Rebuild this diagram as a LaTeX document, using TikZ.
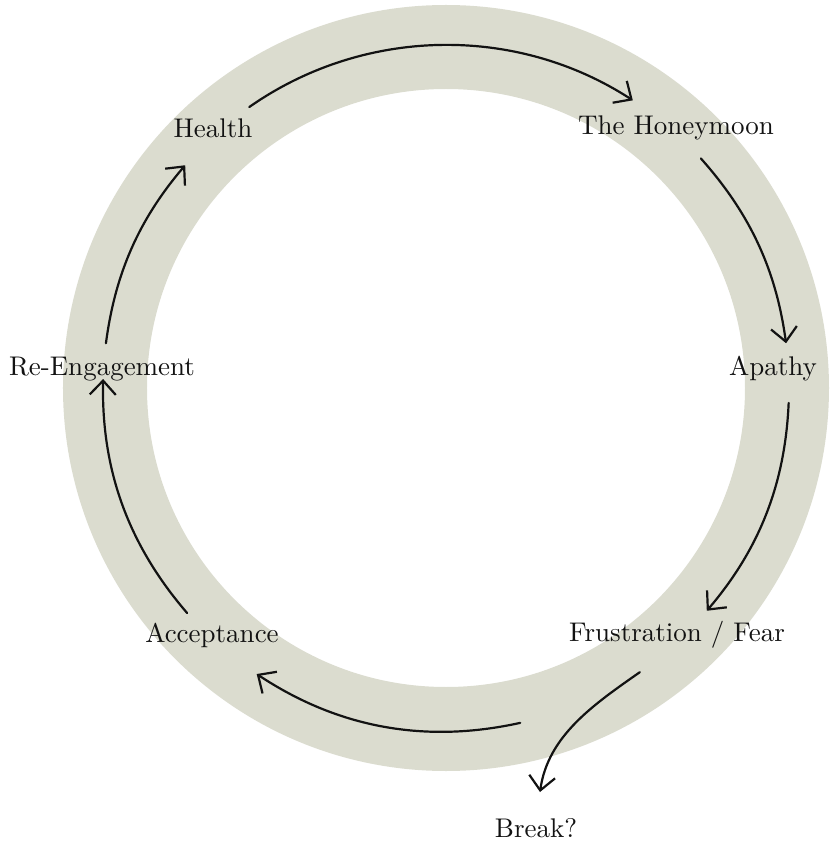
\documentclass[tikz,border=0pt]{standalone}
\usepackage{fontspec}
\setmainfont{lmroman10-regular}[Extension=.otf]
\usetikzlibrary{arrows.meta}
\definecolor{ringgray}{RGB}{219,220,207}
\definecolor{inkblack}{RGB}{18,18,18}

\begin{document}
\begin{tikzpicture}[x=1pt, y=1pt,
      every node/.style = {font=\fontsize{27}{32}\selectfont, text=inkblack, inner sep=0pt},
      flow/.style = {draw=inkblack, line width=2.2pt, line cap=round, looseness=0.93,
        -{Straight Barb[length=14pt,width=26pt,line join=miter]}}]
  \useasboundingbox (-446,-458) rectangle (391,388);
  % ring
  \draw[ringgray, line width=84pt] (0,0) circle (341);
  % stages
  \node (health) at (-233,260) {Health};
  \node (honey) at (230,260) {The Honeymoon};
  \node (apathy) at (327,19) {Apathy};
  \node (frust) at (231,-247) {Frustration / Fear};
  \node (brk) at (90,-440) {Break?};
  \node (accept) at (-234,-247) {Acceptance};
  \node (reeng) at (-344,19) {Re-Engagement};
  % arrow ends on the ring
  \coordinate (a1) at (125:343);   \coordinate (b1) at (57:343);
  \coordinate (a2) at (42:343);    \coordinate (b2) at (7.5:343);
  \coordinate (a3) at (-2.5:343);  \coordinate (b3) at (-40.5:343);
  \coordinate (a4) at (-55.7:344); \coordinate (b4) at (94,-404);
  \coordinate (a5) at (-77.5:343); \coordinate (b5) at (-123.5:343);
  \coordinate (a6) at (221:343);   \coordinate (b6) at (178.5:343);
  \coordinate (a7) at (172.5:343); \coordinate (b7) at (139.5:343);
  \draw[flow] (a1) to[bend left=34] (b1);
  \draw[flow] (a2) to[bend left=17] (b2);
  \draw[flow] (a3) to[bend left=19] (b3);
  \draw[flow] (a4) to[out=215, in=82] (b4);
  \draw[flow] (a5) to[bend left=23] (b5);
  \draw[flow] (a6) to[bend left=21] (b6);
  \draw[flow] (a7) to[bend left=16.5] (b7);
\end{tikzpicture}
\end{document}
